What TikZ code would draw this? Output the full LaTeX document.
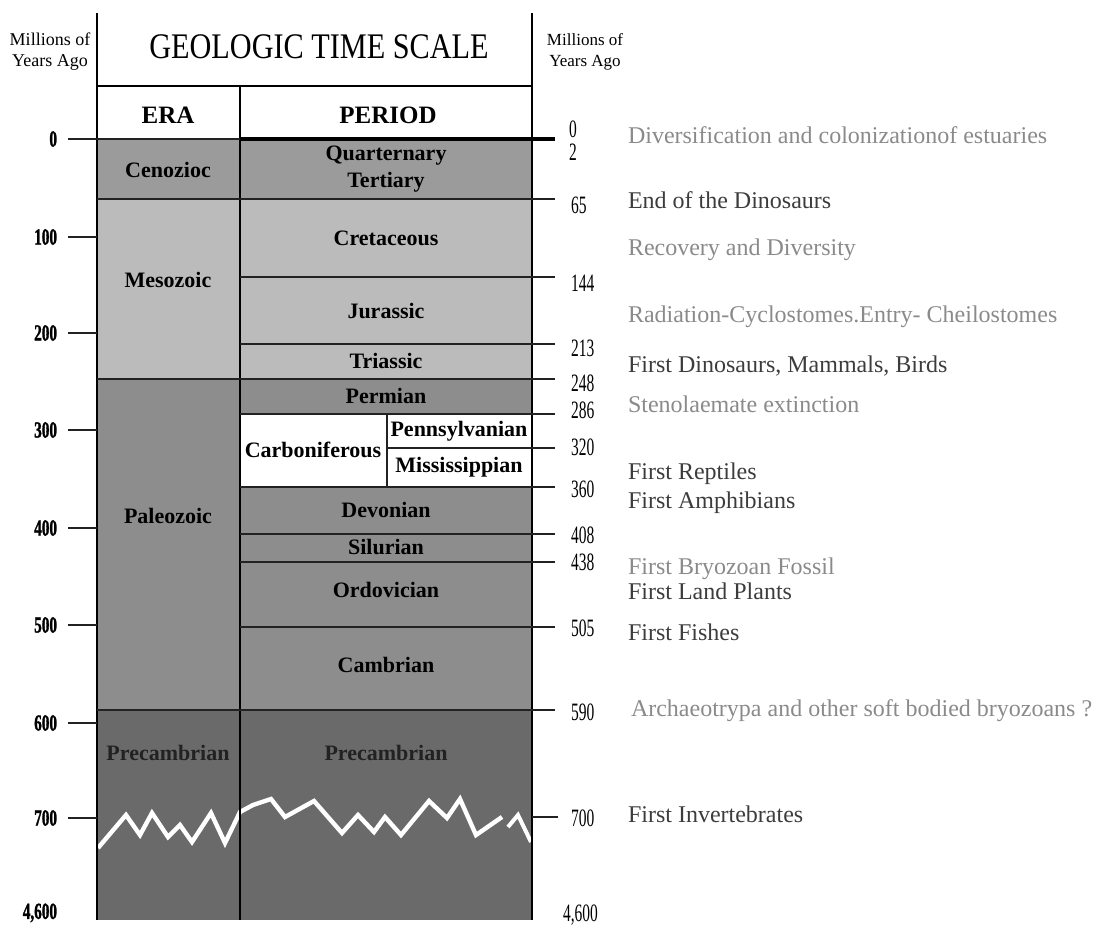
\documentclass[tikz,border=0pt]{standalone}
\usepackage{fontspec}
\setmainfont{Liberation Serif}
\newfontfamily\titlefont[FakeStretch=0.84]{Liberation Serif}
\newfontfamily\agefont[FakeStretch=0.62]{Liberation Serif}
\newfontfamily\tickfont[FakeStretch=0.66,FakeBold=1.2]{Liberation Serif}

\definecolor{cenogray}{HTML}{9B9B9B}
\definecolor{mesogray}{HTML}{BBBBBB}
\definecolor{paleogray}{HTML}{8D8D8D}
\definecolor{precgray}{HTML}{6A6A6A}
\definecolor{darktext}{HTML}{3C3C3C}
\definecolor{lighttext}{HTML}{8A8A8A}
\definecolor{linegray}{HTML}{222222}

\begin{document}
\begin{tikzpicture}[x=0.5pt,y=-0.5pt,
    every node/.style={inner sep=0pt,outer sep=0pt},
    frame/.style={line width=1pt,black},
    bound/.style={line width=1pt,linegray},
    unit/.style={font=\fontsize{11}{13}\selectfont\bfseries},
    head/.style={font=\fontsize{12.5}{14}\selectfont\bfseries},
    tick/.style={anchor=east,font=\tickfont\fontsize{11.5}{13}\selectfont\bfseries},
    age/.style={anchor=west,font=\agefont\fontsize{12.5}{14}\selectfont},
    event/.style={anchor=base west,font=\fontsize{12}{14}\selectfont}]
    \useasboundingbox (0,0) rectangle (1112,925);

    % Eras and periods
    \fill[cenogray] (97,139) rectangle (532,199);
    \fill[mesogray] (97,199) rectangle (532,379);
    \fill[paleogray] (97,379) rectangle (532,710);
    \fill[white] (240,414) rectangle (532,487);
    \fill[precgray] (97,710) rectangle (532,920);

    % Crack in the Precambrian
    \draw[white,line width=2.2pt,line join=miter] (98,848) -- (126,815) -- (140,835) -- (152,813)
        -- (168,837) -- (180,825) -- (192,842) -- (211,813) -- (225,843) -- (240,812)
        -- (253,805) -- (271,799) -- (285,817) -- (314,801) -- (342,833) -- (358,815)
        -- (374,832) -- (385,817) -- (401,835) -- (429,801) -- (447,818) -- (460,799)
        -- (476,835) -- (502,817);
    \draw[white,line width=2pt] (508,827) -- (518,815) -- (531,842);

    % Frame
    \draw[frame] (97,13) -- (97,920);
    \draw[frame] (532,13) -- (532,920);
    \draw[frame] (240,86) -- (240,920);
    \draw[frame] (97,86) -- (532,86);

    % Boundaries
    \draw[bound] (68,139) -- (240,139);
    \draw[line width=2pt] (240,139) -- (555,139);
    \foreach \y/\x in {199/97,277/240,344/240,379/97,414/240,487/240,534/240,562/240,627/240,710/97}
        \draw[bound] (\x,\y) -- (555,\y);
    \draw[bound] (387,448) -- (555,448);
    \draw[bound] (387,414) -- (387,487);
    \draw[bound] (532,817) -- (558,817);

    % Left scale
    \foreach \y/\lab in {237/100,333/200,430/300,528/400,625/500,723/600,818/700} {
        \draw[bound] (68,\y) -- (97,\y);
        \node[tick] (left\lab) at (57,\y) {\lab};
    }
    \node[tick] (left0) at (57,139) {0};
    \node[tick] (leftbase) at (57,913) {4,600};
    \node[align=center,font=\fontsize{9}{10.5}\selectfont] (lefthead) at (50,52) {Millions of\\Years Ago};

    % Right scale
    \foreach \y/\lab in {205/65,283/144,348/213,383/248,410/286,447/320,489/360,535/408,562/438,628/505,712/590,818/700}
        \node[age] (age\lab) at (571,\y) {\lab};
    \node[age] (agenow) at (569,129) {0};
    \node[age] (agetwo) at (569,152) {2};
    \node[age] (agebase) at (563,915) {4,600};
    \node[align=center,font=\fontsize{8.5}{10.5}\selectfont] (righthead) at (585,52) {Millions of\\Years Ago};

    % Headings
    \node[font=\titlefont\fontsize{18}{20}\selectfont] (title) at (319,47) {GEOLOGIC TIME SCALE};
    \node[head] (era) at (168,115) {ERA};
    \node[head] (period) at (388,115) {PERIOD};

    % Era names
    \node[unit] (cenozoic) at (168,170) {Cenozioc};
    \node[unit] (mesozoic) at (168,280) {Mesozoic};
    \node[unit] (paleozoic) at (168,516) {Paleozoic};
    \node[unit,text=linegray] (precera) at (168,753) {Precambrian};

    % Period names
    \node[unit] (quarternary) at (386,156) {Quarternary};
    \node[unit] (tertiary) at (386,182) {Tertiary};
    \node[unit] (cretaceous) at (386,238) {Cretaceous};
    \node[unit] (jurassic) at (386,311) {Jurassic};
    \node[unit] (triassic) at (386,361) {Triassic};
    \node[unit] (permian) at (386,396) {Permian};
    \node[unit] (carboniferous) at (313,450) {Carboniferous};
    \node[unit] (pennsylvanian) at (459,431) {Pennsylvanian};
    \node[unit] (mississippian) at (459,467) {Mississippian};
    \node[unit] (devonian) at (386,510) {Devonian};
    \node[unit] (silurian) at (386,547) {Silurian};
    \node[unit] (ordovician) at (386,590) {Ordovician};
    \node[unit] (cambrian) at (386,665) {Cambrian};
    \node[unit,text=linegray] (precperiod) at (386,753) {Precambrian};

    % Events
    \node[event,lighttext] (estuaries) at (628,144) {Diversification and colonizationof estuaries};
    \node[event,darktext] (dinoend) at (628,209) {End of the Dinosaurs};
    \node[event,lighttext] (recovery) at (628,256) {Recovery and Diversity};
    \node[event,lighttext] (radiation) at (628,322) {Radiation-Cyclostomes.Entry- Cheilostomes};
    \node[event,darktext] (dinofirst) at (628,372) {First Dinosaurs, Mammals, Birds};
    \node[event,lighttext] (extinction) at (628,412) {Stenolaemate extinction};
    \node[event,darktext] (reptiles) at (628,479) {First Reptiles};
    \node[event,darktext] (amphibians) at (628,508) {First Amphibians};
    \node[event,lighttext] (bryozoan) at (628,574) {First Bryozoan Fossil};
    \node[event,darktext] (plants) at (628,599) {First Land Plants};
    \node[event,darktext] (fishes) at (628,640) {First Fishes};
    \node[event,lighttext] (archaeo) at (631,716) {Archaeotrypa and other soft bodied bryozoans ?};
    \node[event,darktext] (invertebrates) at (628,822) {First Invertebrates};
\end{tikzpicture}
\end{document}
